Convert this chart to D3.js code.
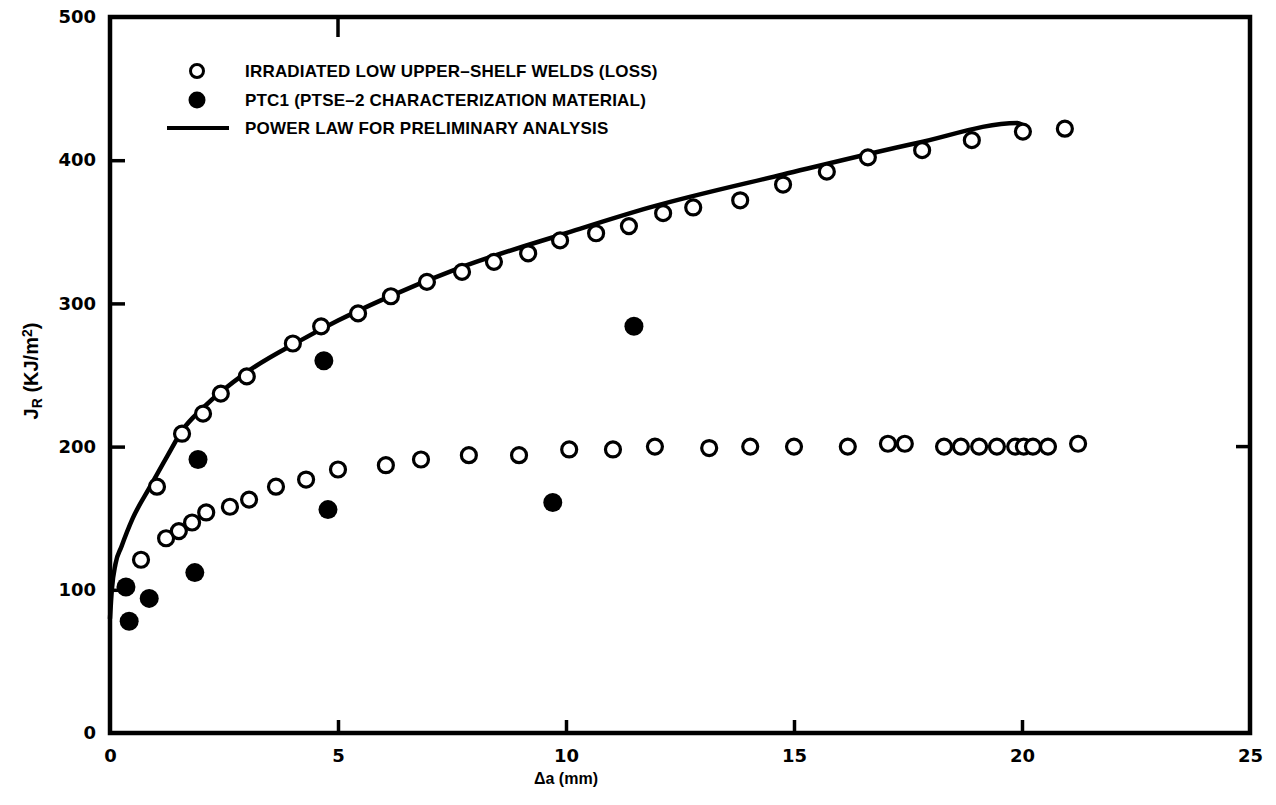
<!DOCTYPE html>
<html>
<head>
<meta charset="utf-8">
<script src="https://cdn.jsdelivr.net/npm/d3@7"></script>
<style>
  body { margin: 0; background: #fff; }
  text { font-family: "Liberation Sans", Arial, sans-serif; font-weight: bold; fill: #000; }
  .tick text { font-family: "DejaVu Sans", sans-serif; }
</style>
</head>
<body>
<svg></svg>
<script>
var width = 1276
var height = 805

// irradiated low upper-shelf welds, upper specimen (delta a in mm, J_R in kJ/m2)
var weldUpperX = [1.03, 1.58, 2.04, 2.43, 3.00, 4.01, 4.63, 5.44, 6.16, 6.95, 7.72, 8.42, 9.17, 9.87, 10.66, 11.38, 12.13, 12.79, 13.82, 14.76, 15.72, 16.62, 17.81, 18.90, 20.02, 20.94]
var weldUpperY = [172, 209, 223, 237, 249, 272, 284, 293, 305, 315, 322, 329, 335, 344, 349, 354, 363, 367, 372, 383, 392, 402, 407, 414, 420, 422]

// irradiated low upper-shelf welds, lower specimen
var weldLowerX = [0.68, 1.23, 1.51, 1.80, 2.11, 2.63, 3.05, 3.64, 4.30, 5.00, 6.05, 6.82, 7.87, 8.97, 10.07, 11.03, 11.95, 13.14, 14.04, 15.00, 16.18, 17.06, 17.43, 18.29, 18.66, 19.06, 19.45, 19.85, 20.04, 20.24, 20.57, 21.23]
var weldLowerY = [121, 136, 141, 147, 154, 158, 163, 172, 177, 184, 187, 191, 194, 194, 198, 198, 200, 199, 200, 200, 200, 202, 202, 200, 200, 200, 200, 200, 200, 200, 200, 202]

// PTC1 (PTSE-2 characterization material)
var ptcX = [0.35, 0.42, 0.86, 1.86, 1.93, 4.69, 4.78, 9.71, 11.49]
var ptcY = [102, 78, 94, 112, 191, 260, 156, 161, 284]

// power law curve
var powerX = [0.0, 0.04, 0.12, 0.25, 0.5, 0.88, 1.25, 1.6, 2.04, 3.0, 4.17, 5.0, 6.0, 7.68, 10.0, 11.84, 14.76, 17.7, 19.9, 20.1]
var powerY = [80, 100, 118, 130, 150, 172, 193, 212, 227, 252, 274, 288, 303, 325, 349, 367, 390, 412, 426, 422]

var xTicks = [0, 5, 10, 15, 20, 25]
var yTicks = [0, 100, 200, 300, 400, 500]
var legendLabels = ["IRRADIATED LOW UPPER\u2013SHELF WELDS (LOSS)", "PTC1 (PTSE\u20132 CHARACTERIZATION MATERIAL)", "POWER LAW FOR PRELIMINARY ANALYSIS"]

var x = d3.scaleLinear().domain([0, 25]).range([110, 1250])
var y = d3.scaleLinear().domain([0, 500]).range([733, 17])

var svg = d3.select("svg")
  .attr("width", width)
  .attr("height", height)

// axes with inward ticks
var xAxis = d3.axisBottom(x).tickValues(xTicks).tickSizeInner(-13).tickSizeOuter(0).tickPadding(16)
var yAxis = d3.axisLeft(y).tickValues(yTicks).tickSizeInner(-15).tickSizeOuter(0).tickPadding(14)

var gx = svg.append("g").attr("transform", "translate(0,733)").call(xAxis)
var gy = svg.append("g").attr("transform", "translate(110,0)").call(yAxis)

;[gx, gy].forEach(g => {
  g.select(".domain").remove()
  g.selectAll(".tick line").attr("stroke", "#000").attr("stroke-width", 3.5)
  g.selectAll(".tick text").style("font-size", "18px")
})
gx.selectAll(".tick").filter(d => d == 0 || d == 25).select("line").remove()
gy.selectAll(".tick").filter(d => d == 0 || d == 500).select("line").remove()

// extra ticks seen on top and right edges
svg.append("line").attr("x1", x(5)).attr("x2", x(5)).attr("y1", y(500)).attr("y2", y(500) + 20)
  .attr("stroke", "#000").attr("stroke-width", 3.5)
svg.append("line").attr("x1", x(25)).attr("x2", x(25) - 14).attr("y1", y(200)).attr("y2", y(200))
  .attr("stroke", "#000").attr("stroke-width", 3.5)

// frame
svg.append("rect")
  .attr("x", x(0)).attr("y", y(500))
  .attr("width", x(25) - x(0)).attr("height", y(0) - y(500))
  .attr("fill", "none").attr("stroke", "#000").attr("stroke-width", 4.5)

// power law line
var powerData = powerX.map((d, i) => [d, powerY[i]])
svg.append("path")
  .datum(powerData)
  .attr("d", d3.line().x(d => x(d[0])).y(d => y(d[1])).curve(d3.curveMonotoneX))
  .attr("fill", "none").attr("stroke", "#000").attr("stroke-width", 4.5)
  .attr("stroke-linecap", "round")

// open circles
var weldData = weldUpperX.map((d, i) => [d, weldUpperY[i]])
  .concat(weldLowerX.map((d, i) => [d, weldLowerY[i]]))
svg.append("g")
  .selectAll("circle")
  .data(weldData)
  .enter()
    .append("circle")
    .attr("cx", d => x(d[0]))
    .attr("cy", d => y(d[1]))
    .attr("r", 7.5)
    .attr("fill", "#fff")
    .attr("stroke", "#000")
    .attr("stroke-width", 3.2)

// filled circles
svg.append("g")
  .selectAll("circle")
  .data(ptcX.map((d, i) => [d, ptcY[i]]))
  .enter()
    .append("circle")
    .attr("cx", d => x(d[0]))
    .attr("cy", d => y(d[1]))
    .attr("r", 9.5)
    .attr("fill", "#000")

// legend
var legend = svg.append("g")
var rows = [71, 100, 128]
legend.append("circle").attr("cx", 197).attr("cy", rows[0]).attr("r", 6.5)
  .attr("fill", "#fff").attr("stroke", "#000").attr("stroke-width", 3)
legend.append("circle").attr("cx", 197).attr("cy", rows[1]).attr("r", 8.5).attr("fill", "#000")
legend.append("line").attr("x1", 167).attr("x2", 229).attr("y1", rows[2]).attr("y2", rows[2])
  .attr("stroke", "#000").attr("stroke-width", 4)
legend.selectAll("text")
  .data(legendLabels)
  .enter()
    .append("text")
    .attr("x", 245)
    .attr("y", (d, i) => rows[i])
    .attr("dy", "0.36em")
    .style("font-size", "17px")
    .style("letter-spacing", "0.2px")
    .text(d => d)

// axis titles
svg.append("text")
  .attr("x", x(10))
  .attr("y", 784)
  .attr("text-anchor", "middle")
  .style("font-size", "16px")
  .text("\u0394a (mm)")

var yt = svg.append("text")
  .attr("transform", "translate(38,371) rotate(-90)")
  .attr("text-anchor", "middle")
  .style("font-size", "20px")
yt.append("tspan").text("J")
yt.append("tspan").attr("baseline-shift", "-30%").style("font-size", "14px").text("R")
yt.append("tspan").text(" (KJ/m")
yt.append("tspan").attr("baseline-shift", "45%").style("font-size", "14px").text("2")
yt.append("tspan").text(")")
</script>
</body>
</html>
